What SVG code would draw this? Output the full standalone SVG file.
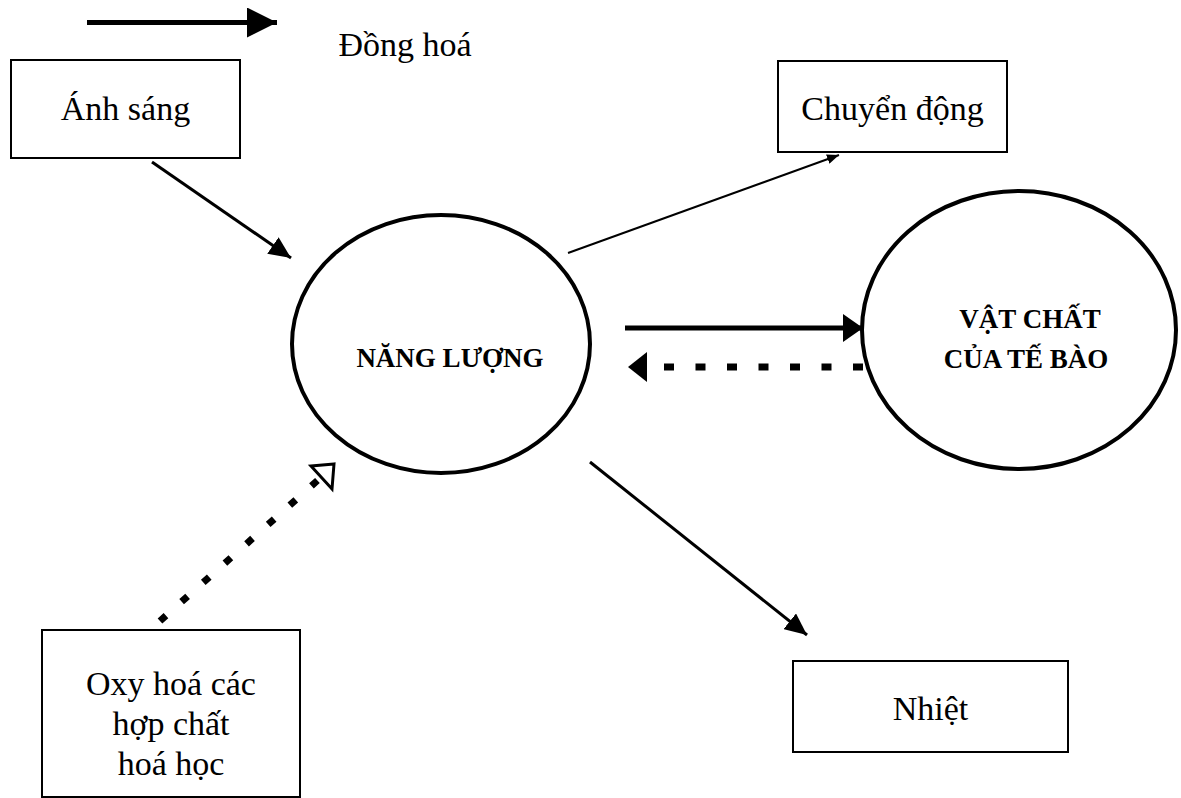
<svg xmlns="http://www.w3.org/2000/svg" width="1181" height="798" viewBox="0 0 1181 798">
  <style>
    .box { fill: #fff; stroke: #000; stroke-width: 2; }
    .circ { fill: #fff; stroke: #000; stroke-width: 4; }
    .lbl { font-family: "Liberation Serif", "Times New Roman", serif; font-size: 34px; fill: #000; text-anchor: middle; }
    .clbl { font-family: "Liberation Serif", "Times New Roman", serif; font-size: 27px; font-weight: bold; fill: #000; text-anchor: middle; }
    .ln { fill: none; stroke: #000; }
  </style>
  <defs>
    <marker id="ahBig" markerUnits="userSpaceOnUse" viewBox="0 0 30 30" refX="30" refY="15" markerWidth="30" markerHeight="30" orient="auto">
      <path d="M0,0 L30,15 L0,30 z" fill="#000" stroke="none"/>
    </marker>
    <marker id="ahMid" markerUnits="userSpaceOnUse" viewBox="0 0 20 28" refX="20" refY="14" markerWidth="20" markerHeight="28" orient="auto">
      <path d="M0,0 L20,14 L0,28 z" fill="#000" stroke="none"/>
    </marker>
    <marker id="ahSm" markerUnits="userSpaceOnUse" viewBox="0 0 22 20" refX="22" refY="10" markerWidth="22" markerHeight="20" orient="auto">
      <path d="M0,0 L22,10 L0,20 z" fill="#000" stroke="none"/>
    </marker>
    <marker id="ahTiny" markerUnits="userSpaceOnUse" viewBox="0 0 12 10" refX="12" refY="5" markerWidth="12" markerHeight="10" orient="auto">
      <path d="M0,0 L12,5 L0,10 z" fill="#000" stroke="none"/>
    </marker>
  </defs>
  <rect width="1181" height="798" fill="#fff"/>

  <g id="legend">
    <line class="ln" x1="87" y1="22.5" x2="277" y2="22.5" stroke-width="5" marker-end="url(#ahBig)"/>
    <text class="lbl" x="405" y="56">Đồng hoá</text>
  </g>

  <g id="connectors">
    <line class="ln" x1="152" y1="162" x2="291" y2="258" stroke-width="3" marker-end="url(#ahSm)"/>
    <line class="ln" x1="568" y1="253" x2="839" y2="155" stroke-width="2" marker-end="url(#ahTiny)"/>
    <line class="ln" x1="590" y1="462" x2="807" y2="635" stroke-width="3" marker-end="url(#ahSm)"/>
    <line class="ln" x1="625" y1="328" x2="863" y2="328" stroke-width="5" marker-end="url(#ahMid)"/>
    <line class="ln" x1="863" y1="367" x2="650" y2="367" stroke-width="7" stroke-dasharray="10 21.5"/>
    <path d="M647,352 L628,367 L647,382 z" fill="#000"/>
    <line class="ln" x1="160" y1="621" x2="318" y2="480" stroke-width="7" stroke-dasharray="8 21"/>
    <path d="M334,464 L311,466 L332,489 z" fill="#fff" stroke="#000" stroke-width="3" stroke-linejoin="miter"/>
  </g>

  <g id="anh-sang">
    <rect class="box" x="11" y="60" width="229" height="98"/>
    <text class="lbl" x="125.5" y="120">Ánh sáng</text>
  </g>

  <g id="chuyen-dong">
    <rect class="box" x="778" y="61" width="229" height="91"/>
    <text class="lbl" x="892.5" y="120">Chuyển động</text>
  </g>

  <g id="nang-luong">
    <ellipse class="circ" cx="441" cy="344" rx="149" ry="129"/>
    <text class="clbl" x="450" y="367">NĂNG LƯỢNG</text>
  </g>

  <g id="vat-chat">
    <ellipse class="circ" cx="1019" cy="330" rx="157" ry="139"/>
    <text class="clbl" x="1030" y="328">VẬT CHẤT</text>
    <text class="clbl" x="1026" y="368">CỦA TẾ BÀO</text>
  </g>

  <g id="oxy-hoa">
    <rect class="box" x="42" y="630" width="258" height="167"/>
    <text class="lbl" x="171" y="695">Oxy hoá các</text>
    <text class="lbl" x="171" y="735">hợp chất</text>
    <text class="lbl" x="171" y="775">hoá học</text>
  </g>

  <g id="nhiet">
    <rect class="box" x="793" y="661" width="275" height="91"/>
    <text class="lbl" x="930.5" y="720">Nhiệt</text>
  </g>
</svg>
